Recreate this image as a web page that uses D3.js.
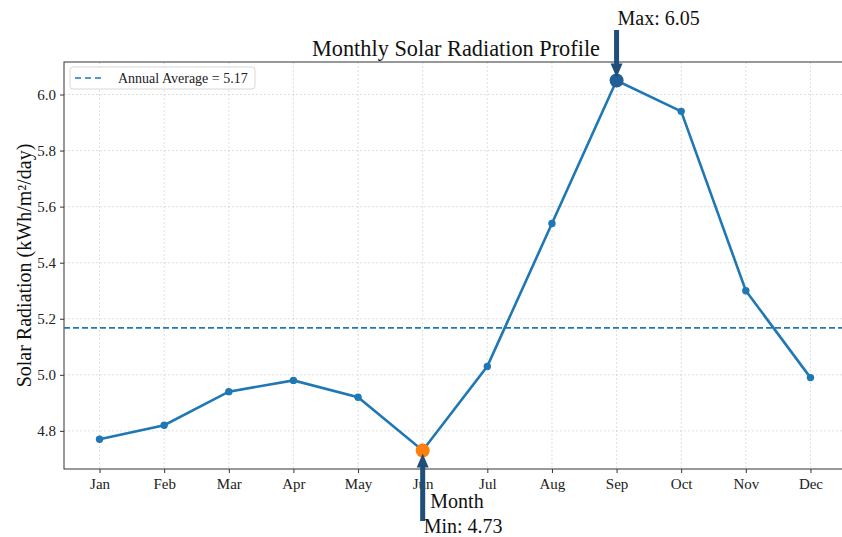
<!DOCTYPE html>
<html>
<head>
<meta charset="utf-8">
<script src="https://cdn.jsdelivr.net/npm/d3@7"></script>
<style>
  body { margin: 0; background: #fff; }
  svg { font-family: "Liberation Serif", "DejaVu Serif", serif; }
</style>
</head>
<body>
<div id="chart"></div>
<script>
var months = ["Jan", "Feb", "Mar", "Apr", "May", "Jun", "Jul", "Aug", "Sep", "Oct", "Nov", "Dec"];
var radiation = [4.77, 4.82, 4.94, 4.98, 4.92, 4.73, 5.03, 5.54, 6.05, 5.94, 5.30, 4.99];
var yTicks = [4.8, 5.0, 5.2, 5.4, 5.6, 5.8, 6.0];

var avg = d3.mean(radiation);
var maxI = d3.maxIndex(radiation), minI = d3.minIndex(radiation);

var W = 842, H = 537;
var margin = {top: 62, right: -4, bottom: 68, left: 64},
    width = W - margin.left - margin.right,
    height = H - margin.top - margin.bottom;

var lo = d3.min(radiation), hi = d3.max(radiation), pad = (hi - lo) * 0.05;

var x = d3.scaleLinear().domain([-0.55, 11.55]).range([0, width]);
var y = d3.scaleLinear().domain([lo - pad, hi + pad]).range([height, 0]);

var svg = d3.select("#chart").append("svg")
    .attr("width", W).attr("height", H);

var g = svg.append("g")
    .attr("transform", "translate(" + margin.left + "," + margin.top + ")");

// grid
g.append("g").selectAll("line")
  .data(d3.range(months.length))
  .enter().append("line")
    .attr("x1", function(d) { return x(d); }).attr("x2", function(d) { return x(d); })
    .attr("y1", 0).attr("y2", height)
    .attr("stroke", "#b0b0b0").attr("stroke-opacity", 0.5)
    .attr("stroke-dasharray", "2,2").attr("stroke-width", 0.8);

g.append("g").selectAll("line")
  .data(yTicks)
  .enter().append("line")
    .attr("x1", 0).attr("x2", width)
    .attr("y1", function(d) { return y(d); }).attr("y2", function(d) { return y(d); })
    .attr("stroke", "#b0b0b0").attr("stroke-opacity", 0.5)
    .attr("stroke-dasharray", "2,2").attr("stroke-width", 0.8);

// axes
var xAxis = g.append("g")
    .attr("transform", "translate(0," + height + ")")
    .call(d3.axisBottom(x).tickValues(d3.range(months.length))
      .tickFormat(function(d) { return months[d]; }).tickSize(4).tickPadding(5));

var yAxis = g.append("g")
    .call(d3.axisLeft(y).tickValues(yTicks).tickFormat(d3.format(".1f")).tickSize(4).tickPadding(4));

[xAxis, yAxis].forEach(function(a) {
  a.selectAll("text").attr("font-size", 15).attr("fill", "#222").attr("font-family", "Liberation Serif");
  a.selectAll("line").attr("stroke", "#333");
  a.select(".domain").remove();
});

// frame
g.append("rect")
    .attr("width", width).attr("height", height)
    .attr("fill", "none").attr("stroke", "#333").attr("stroke-width", 1);

// average line
g.append("line")
    .attr("x1", 0).attr("x2", width)
    .attr("y1", y(avg)).attr("y2", y(avg))
    .attr("stroke", "#1f77b4").attr("stroke-width", 1.6)
    .attr("stroke-dasharray", "6,3");

// main line
var line = d3.line()
    .x(function(d, i) { return x(i); })
    .y(function(d) { return y(d); });

g.append("path")
    .datum(radiation)
    .attr("fill", "none")
    .attr("stroke", "#1f77b4")
    .attr("stroke-width", 2.6)
    .attr("d", line);

g.selectAll(".pt")
  .data(radiation)
  .enter().append("circle")
    .attr("class", "pt")
    .attr("cx", function(d, i) { return x(i); })
    .attr("cy", function(d) { return y(d); })
    .attr("r", 3.7)
    .attr("fill", "#1f77b4");

// highlight max / min
g.append("circle")
    .attr("cx", x(maxI)).attr("cy", y(radiation[maxI]))
    .attr("r", 7).attr("fill", "#1f5f96");
g.append("circle")
    .attr("cx", x(minI)).attr("cy", y(radiation[minI]))
    .attr("r", 7).attr("fill", "#ff7f0e");

// arrows
var arrowCol = "#1f4f78";
function arrow(x0, y0, x1, y1) {
  var dir = y1 > y0 ? 1 : -1, headL = 14, headW = 6, shaft = 2.5;
  var yb = y1 - dir * headL;
  var pts = [
    [x0 - shaft, y0], [x0 + shaft, y0], [x0 + shaft, yb], [x0 + headW, yb],
    [x1, y1], [x0 - headW, yb], [x0 - shaft, yb]
  ];
  g.append("path")
      .attr("d", "M" + pts.join("L") + "Z")
      .attr("fill", arrowCol);
}
arrow(x(maxI), -32, x(maxI), y(radiation[maxI]) - 3);
arrow(x(minI), 459, x(minI), y(radiation[minI]) + 3);

// annotation text
g.append("text")
    .attr("x", x(maxI) + 1).attr("y", -37)
    .attr("font-size", 20).attr("fill", "#111")
    .text("Max: " + radiation[maxI].toFixed(2));

g.append("text")
    .attr("x", x(minI) + 1).attr("y", 471)
    .attr("font-size", 20).attr("fill", "#111")
    .text("Min: " + radiation[minI].toFixed(2));

// title and labels
svg.append("text")
    .attr("x", 456).attr("y", 56)
    .attr("text-anchor", "middle")
    .attr("font-size", 22.3).attr("fill", "#111")
    .text("Monthly Solar Radiation Profile");

svg.append("text")
    .attr("x", 457).attr("y", 508)
    .attr("text-anchor", "middle")
    .attr("font-size", 20).attr("fill", "#111")
    .text("Month");

svg.append("text")
    .attr("transform", "translate(31," + (margin.top + height / 2) + ") rotate(-90)")
    .attr("text-anchor", "middle")
    .attr("font-size", 20).attr("fill", "#111")
    .text("Solar Radiation (kWh/m²/day)");

// legend
var leg = g.append("g").attr("transform", "translate(6,5)");
leg.append("rect")
    .attr("width", 185).attr("height", 22).attr("rx", 3)
    .attr("fill", "#fff").attr("fill-opacity", 0.8)
    .attr("stroke", "#d8d8d8");
leg.append("line")
    .attr("x1", 5).attr("x2", 35).attr("y1", 11).attr("y2", 11)
    .attr("stroke", "#1f77b4").attr("stroke-width", 1.6)
    .attr("stroke-dasharray", "6,4");
leg.append("text")
    .attr("x", 48).attr("y", 16)
    .attr("font-size", 14).attr("fill", "#222")
    .text("Annual Average = " + avg.toFixed(2));
</script>
</body>
</html>
